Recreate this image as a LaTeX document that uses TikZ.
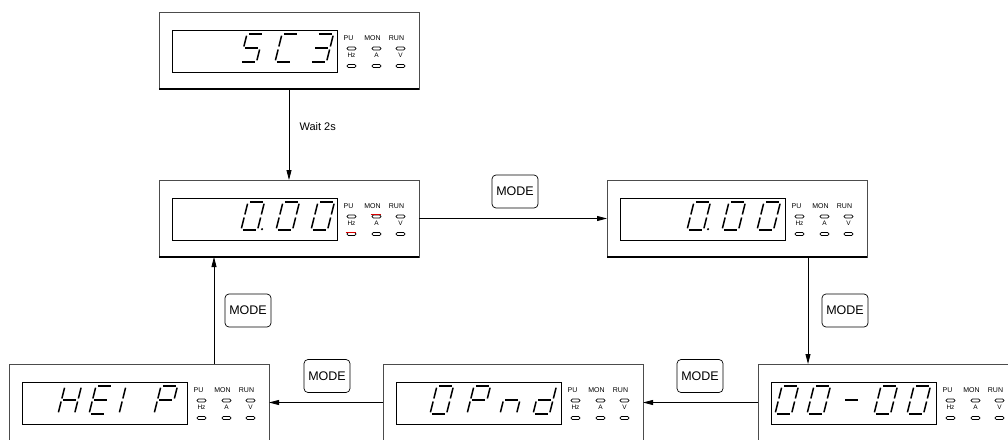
\documentclass[tikz,border=0pt]{standalone}
\usepackage{fontspec}
\setmainfont{Liberation Sans}
\usetikzlibrary{arrows.meta,calc}
\tikzset{
  panel/.style={draw=black!70, line width=0.8pt, rectangle, minimum width=260pt, minimum height=77pt, anchor=north west, inner sep=0pt, outer sep=0pt},
  lcd/.style={draw=black, line width=0.7pt},
  seg/.style={draw=black, line width=1.5pt, line cap=butt},
  led/.style={draw=black, line width=0.6pt, rounded corners=1.4pt},
  ledlbl/.style={font=\fontsize{7}{8}\selectfont, inner sep=0pt},
  modebtn/.style={draw=black, line width=0.7pt, rounded corners=4pt, minimum width=46pt, minimum height=33pt, inner sep=0pt, font=\fontsize{12.5}{14}\selectfont},
  arr/.style={draw=black, line width=0.8pt, -{Triangle[length=10pt,width=5pt]}},
  redmark/.style={draw=red!85!black, line width=1.6pt},
}
\newcommand\segdrawa{\draw[seg] (1.8,28) -- (14.8,28);}
\newcommand\segdrawb{\draw[seg] (16.5,26.3) -- (16.5,15.5);}
\newcommand\segdrawc{\draw[seg] (16.5,12.5) -- (16.5,1.7);}
\newcommand\segdrawd{\draw[seg] (1.8,0) -- (14.8,0);}
\newcommand\segdrawe{\draw[seg] (0,1.7) -- (0,12.5);}
\newcommand\segdrawf{\draw[seg] (0,15.5) -- (0,26.3);}
\newcommand\segdrawg{\draw[seg] (1.8,14) -- (14.8,14);}
\newcommand\sevdig[3]{%
  \begin{scope}[shift={(#1,#2)}, x=1pt, y=1pt, xslant=0.25]
    \foreach \s in {#3} {\csname segdraw\s\endcsname}
  \end{scope}}
\newcommand\decpt[2]{\fill ({#1+21},{#2-0.8}) circle (1.2pt);}
\newcommand\ledpair[3]{% cx, innertop, letter
  \draw[led] ({#1-4.5},{#2+17}) rectangle ({#1+4.5},{#2+20});
  \node[ledlbl, font=\fontsize{6.5}{7}\selectfont] at (#1,{#2+25}) {#3};
  \draw[led] ({#1-4.5},{#2+34.5}) rectangle ({#1+4.5},{#2+37.5});}
\newcommand\dpanel[3]{% name, x, y
  \node[panel] (#1) at (#2,#3) {};
  \draw[black, line width=1.2pt] ({#2},{#3+77}) -- ({#2+260},{#3+77});
  \draw[lcd] ({#2+13.5},{#3+18}) rectangle ({#2+178.5},{#3+60});
  \node[ledlbl] at ({#2+189.5},{#3+26}) {PU};
  \node[ledlbl] at ({#2+213.5},{#3+26}) {MON};
  \node[ledlbl] at ({#2+237.5},{#3+26}) {RUN};
  \ledpair{#2+192.5}{#3+18}{Hz}
  \ledpair{#2+217.5}{#3+18}{A}
  \ledpair{#2+241.5}{#3+18}{V}}
\begin{document}
\begin{tikzpicture}[x=1pt,y=-1pt]
\useasboundingbox (0,0) rectangle (1008,439);
\clip (0,0) rectangle (1008,439);
% panels
\dpanel{T}{159}{12}
\dpanel{ML}{159}{180}
\dpanel{MR}{607}{180}
\dpanel{BL}{9}{364}
\dpanel{BM}{383}{364}
\dpanel{BR}{758}{364}
% digits
\sevdig{240}{62}{a,f,g,c,d}
\sevdig{275}{62}{a,f,e,d}
\sevdig{310}{62}{a,b,g,c,d}
\sevdig{241}{230}{a,b,c,d,e,f}\decpt{241}{230}
\sevdig{276}{230}{a,b,c,d,e,f}
\sevdig{311}{230}{a,b,c,d,e,f}
\sevdig{687}{230}{a,b,c,d,e,f}\decpt{687}{230}
\sevdig{722}{230}{a,b,c,d,e,f}
\sevdig{757}{230}{a,b,c,d,e,f}
\sevdig{58}{414}{b,c,e,f,g}
\sevdig{89}{414}{a,d,e,f,g}
\sevdig{119}{414}{e,f}
\sevdig{154}{414}{a,b,e,f,g}
\sevdig{430}{414}{a,b,c,d,e,f}
\sevdig{467}{414}{a,b,e,f,g}
\sevdig{500}{414}{c,e,g}
\sevdig{533}{414}{b,c,d,e,g}
\sevdig{775}{414}{a,b,c,d,e,f}
\sevdig{807}{414}{a,b,c,d,e,f}
\sevdig{840}{414}{g}
\sevdig{874}{414}{a,b,c,d,e,f}
\sevdig{907}{414}{a,b,c,d,e,f}
% red indicator marks on ML
\draw[redmark] (370.5,214.5) -- (380.5,214.5);
\draw[redmark] (345.5,232.5) -- (355.5,232.5);
% MODE buttons
\node[modebtn] (m1) at (515,191.5) {MODE};
\node[modebtn] (m2) at (845,310.5) {MODE};
\node[modebtn] (m3) at (700,376) {MODE};
\node[modebtn] (m4) at (327,376) {MODE};
\node[modebtn] (m5) at (248,310.5) {MODE};
% connectors
\draw[arr] (T.south) -- (ML.north);
\node[anchor=west, font=\fontsize{11}{13}\selectfont] (wait) at (296,127) {Wait 2s};
\draw[arr] (ML.east) -- (MR.west);
\coordinate (mrout) at ($(MR.south west)+(201,0)$);
\draw[arr] (mrout) -- (mrout |- BR.north);
\draw[arr] (BR.west) -- (BM.east);
\draw[arr] (BM.west) -- (BL.east);
\coordinate (blout) at ($(BL.north west)+(205,0)$);
\draw[arr] (blout) -- (blout |- ML.south);
\end{tikzpicture}
\end{document}
